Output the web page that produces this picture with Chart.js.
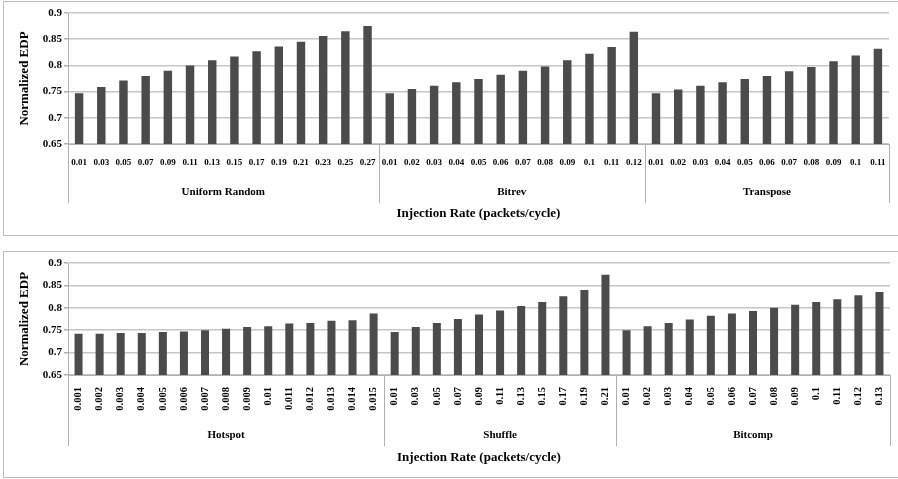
<!DOCTYPE html>
<html><head><meta charset="utf-8">
<script src="https://cdn.jsdelivr.net/npm/chart.js@4.4.1/dist/chart.umd.min.js"></script>
<style>
html,body{margin:0;padding:0;background:#fff;width:898px;height:479px;overflow:hidden;}
.frame{position:absolute;border:1px solid #bcbcbc;box-sizing:border-box;}
#f1{left:3px;top:1px;width:920px;height:235px;}
#f2{left:3px;top:251px;width:920px;height:227px;}
canvas{position:absolute;}
#c1{left:3px;top:1px;}
#c2{left:3px;top:251px;}
</style></head><body>
<div class="frame" id="f1"></div><div class="frame" id="f2"></div>
<canvas id="c1" width="895" height="234"></canvas>
<canvas id="c2" width="895" height="227"></canvas>
<script>
// ---- Data (top panel) ----
const urRates = ['0.01','0.03','0.05','0.07','0.09','0.11','0.13','0.15','0.17','0.19','0.21','0.23','0.25','0.27'];
const urEDP   = [0.747,0.759,0.771,0.780,0.790,0.800,0.810,0.817,0.827,0.836,0.845,0.856,0.865,0.875];
const bitrevRates = ['0.01','0.02','0.03','0.04','0.05','0.06','0.07','0.08','0.09','0.1','0.11','0.12'];
const bitrevEDP   = [0.747,0.755,0.761,0.768,0.774,0.782,0.790,0.798,0.810,0.822,0.835,0.864];
const transposeRates = ['0.01','0.02','0.03','0.04','0.05','0.06','0.07','0.08','0.09','0.1','0.11'];
const transposeEDP   = [0.747,0.754,0.761,0.768,0.774,0.780,0.789,0.797,0.808,0.819,0.832];
// ---- Data (bottom panel) ----
const hotspotRates = ['0.001','0.002','0.003','0.004','0.005','0.006','0.007','0.008','0.009','0.01','0.011','0.012','0.013','0.014','0.015'];
const hotspotEDP   = [0.742,0.742,0.744,0.744,0.746,0.747,0.750,0.753,0.757,0.759,0.765,0.766,0.771,0.772,0.787];
const shuffleRates = ['0.01','0.03','0.05','0.07','0.09','0.11','0.13','0.15','0.17','0.19','0.21'];
const shuffleEDP   = [0.746,0.757,0.766,0.775,0.785,0.794,0.804,0.813,0.826,0.840,0.874];
const bitcompRates = ['0.01','0.02','0.03','0.04','0.05','0.06','0.07','0.08','0.09','0.1','0.11','0.12','0.13'];
const bitcompEDP   = [0.750,0.759,0.766,0.774,0.782,0.787,0.793,0.800,0.807,0.813,0.819,0.828,0.835];
const yTicks = [0.65,0.7,0.75,0.8,0.85,0.9];
const yTitle = 'Normalized EDP';
const xTitle = 'Injection Rate (packets/cycle)';

const FONT = "'Liberation Serif','Times New Roman',serif";
const BAR = '#4b4b4b';
const GRID = '#c6c6c6';
const AXIS = '#b0b0b0';

const groupPlugin = {
  id: 'groups',
  afterDraw(chart, args, opts) {
    const x = chart.scales.x, area = chart.chartArea, ctx = chart.ctx;
    const step = x.getPixelForTick(1) - x.getPixelForTick(0);
    ctx.save();
    ctx.fillStyle = '#000';
    ctx.font = 'bold ' + opts.fontSize + 'px ' + FONT;
    ctx.textAlign = 'center';
    ctx.textBaseline = 'middle';
    let start = 0;
    const edges = new Set();
    opts.groups.forEach(g => {
      const left = x.getPixelForTick(start) - step / 2;
      const right = x.getPixelForTick(start + g.count - 1) + step / 2;
      ctx.fillText(g.name, (left + right) / 2, area.bottom + opts.labelOffset);
      edges.add(Math.round(left)); edges.add(Math.round(right));
      start += g.count;
    });
    ctx.strokeStyle = AXIS;
    ctx.lineWidth = 1;
    edges.forEach(e => {
      ctx.beginPath();
      ctx.moveTo(e + 0.5, area.bottom);
      ctx.lineTo(e + 0.5, area.bottom + opts.lineLength);
      ctx.stroke();
    });
    ctx.restore();
  }
};

function makeChart(id, groups, cfg) {
  const labels = [].concat(...groups.map(g => g.rates));
  const data = [].concat(...groups.map(g => g.values));
  return new Chart(document.getElementById(id), {
    type: 'bar',
    data: { labels, datasets: [{ data, backgroundColor: BAR, borderWidth: 0,
      barPercentage: 0.38, categoryPercentage: 1 }] },
    plugins: [groupPlugin],
    options: {
      responsive: false, animation: false,
      layout: { padding: { top: cfg.padTop, right: cfg.padRight, bottom: 0, left: 0 } },
      plugins: { legend: { display: false }, tooltip: { enabled: false },
        groups: { groups: groups.map(g => ({ name: g.name, count: g.rates.length })),
          labelOffset: cfg.groupLabelOffset, lineLength: cfg.groupLineLength, fontSize: 11 } },
      scales: {
        x: {
          type: 'category', offset: true,
          grid: { display: false, drawTicks: false },
          border: { display: true, color: AXIS, width: 1 },
          ticks: { autoSkip: false, minRotation: cfg.rot, maxRotation: cfg.rot,
            padding: cfg.tickPad, color: '#000',
            font: { family: FONT, weight: 'bold', size: cfg.tickSize } },
          title: { display: true, text: xTitle, color: '#000',
            font: { family: FONT, weight: 'bold', size: 13 },
            padding: { top: 0, bottom: cfg.titlePad } },
          afterFit: s => { s.height = cfg.xHeight; s.paddingLeft = 0; s.paddingRight = 0; }
        },
        y: {
          min: 0.65, max: 0.9,
          afterBuildTicks: s => { s.ticks = yTicks.map(v => ({ value: v })); },
          grid: { color: GRID, lineWidth: 1.5, drawTicks: true, tickLength: 4, tickColor: AXIS },
          border: { display: true, color: AXIS, width: 1 },
          ticks: { padding: 2, color: '#000',
            font: { family: FONT, weight: 'bold', size: 11 },
            callback: v => String(parseFloat(Number(v).toFixed(2))) },
          title: { display: true, text: yTitle, color: '#000',
            font: { family: FONT, weight: 'bold', size: 13 },
            padding: { top: 14, bottom: 0 } },
          afterFit: s => { s.width = 65; }
        }
      }
    }
  });
}

makeChart('c1', [
  { name: 'Uniform Random', rates: urRates, values: urEDP },
  { name: 'Bitrev', rates: bitrevRates, values: bitrevEDP },
  { name: 'Transpose', rates: transposeRates, values: transposeEDP }
], { padTop: 12, padRight: 9, xHeight: 91, titlePad: 14, rot: 0, tickPad: 13, tickSize: 9,
     groupLabelOffset: 48, groupLineLength: 59 });

makeChart('c2', [
  { name: 'Hotspot', rates: hotspotRates, values: hotspotEDP },
  { name: 'Shuffle', rates: shuffleRates, values: shuffleEDP },
  { name: 'Bitcomp', rates: bitcompRates, values: bitcompEDP }
], { padTop: 12, padRight: 8, xHeight: 103, titlePad: 13, rot: 90, tickPad: 12, tickSize: 10.5,
     groupLabelOffset: 60, groupLineLength: 71 });
</script>
</body></html>
